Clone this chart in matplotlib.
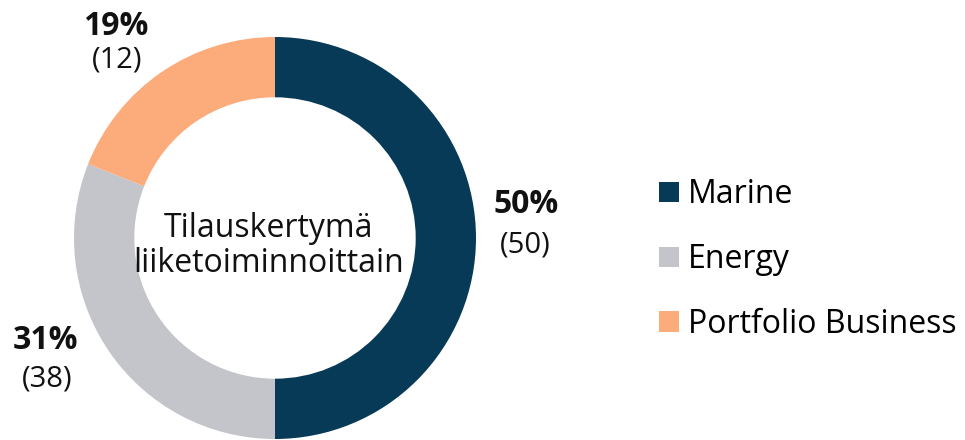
import matplotlib.pyplot as plt

plt.rcParams['font.family'] = ['Open Sans', 'Noto Sans', 'DejaVu Sans']

segments = ['Marine', 'Energy', 'Portfolio Business']
shares = [50, 31, 19]
counts = [50, 38, 12]
colors = ['#073a57', '#c4c5ca', '#fcab7b']
center_lines = ['Tilauskertymä', 'liiketoiminnoittain']

fig = plt.figure(figsize=(9.65, 4.4), dpi=100)
# donut axes placed in pixel terms: centre (275, 238), radius ~201 px
ax = fig.add_axes([74 / 965, 1 / 440, 402 / 965, 402 / 440])
wedges, _ = ax.pie(shares, colors=colors, startangle=90, counterclock=False,
                   radius=1, wedgeprops=dict(width=0.3, linewidth=0))
ax.set_xlim(-1, 1)
ax.set_ylim(-1, 1)
ax.set_aspect('equal')
ax.axis('off')

for line, y in zip(center_lines, [0.005, -0.169]):
    ax.text(-0.03, y, line, ha='center', va='baseline', fontsize=23,
            color='#111111')

# label baselines (data units, radius = 1)
pct_pos = [(1.251, 0.124), (-1.144, -0.552), (-0.791, 1.010)]
cnt_pos = [(1.244, -0.070), (-1.134, -0.741), (-0.784, 0.846)]
for (px, py), (cx, cy), p, c in zip(pct_pos, cnt_pos, shares, counts):
    ax.text(px, py, f'{p}%', ha='center', va='baseline', fontsize=23,
            fontweight='bold', color='#111111')
    ax.text(cx, cy, f'({c})', ha='center', va='baseline', fontsize=21,
            color='#111111')

fig.legend(wedges, segments, loc='center left', bbox_to_anchor=(646 / 965, 0.41),
           frameon=False, fontsize=23, handlelength=0.62, handleheight=0.62,
           handletextpad=0.3, labelspacing=1.0, borderaxespad=0)

fig.savefig('out.png', dpi=100)
